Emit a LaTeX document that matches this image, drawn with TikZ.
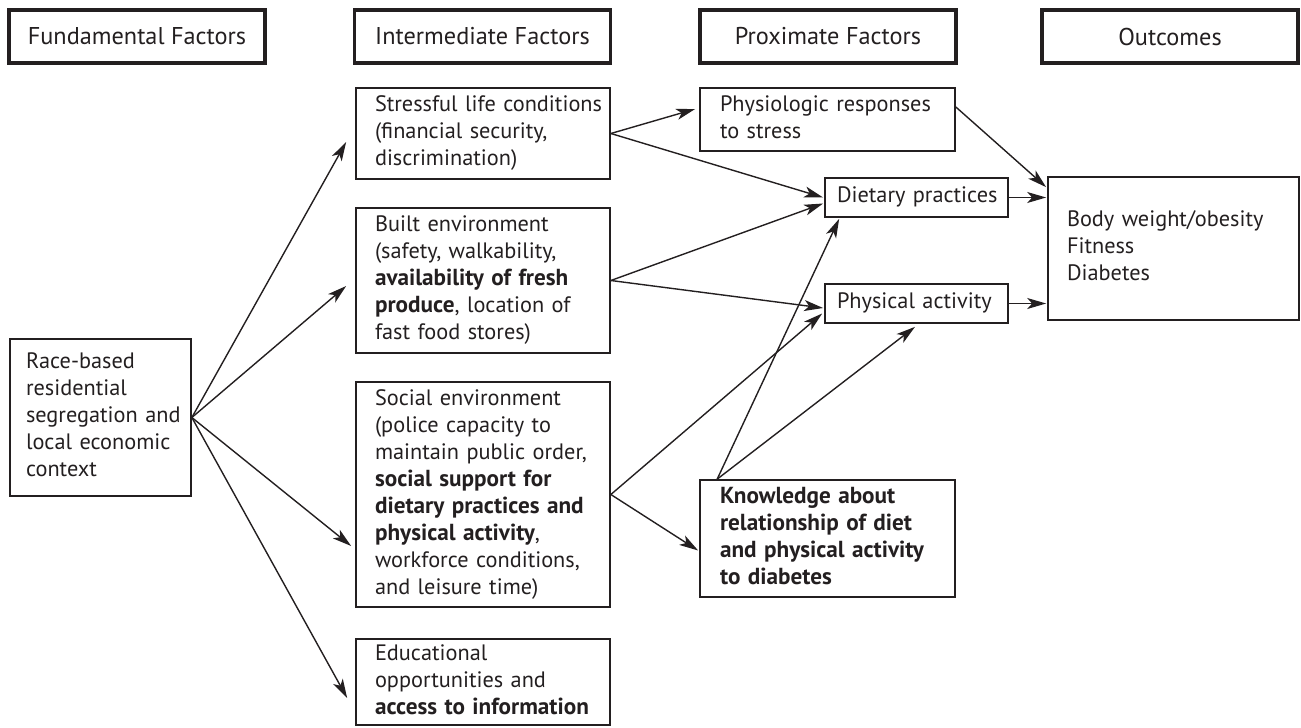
\documentclass[tikz,border=0pt]{standalone}
\usepackage{fontspec}
\setmainfont{PT Sans}
\usetikzlibrary{arrows.meta,calc}
\definecolor{ink}{HTML}{231F20}
\newcommand{\lns}[1]{\noindent\begin{tabular}{@{}l@{}}#1\end{tabular}}
\newcommand{\bld}[1]{{\bfseries\fontsize{23.2}{27}\selectfont #1}}
\begin{document}
\begin{tikzpicture}[x=1pt,y=-1pt,
  txt/.style={font=\fontsize{22.3}{27}\selectfont, text=ink},
  hdr/.style={font=\fontsize{24.3}{29}\selectfont, text=ink, draw=ink, line width=3.2pt, minimum width=256pt, minimum height=53pt, inner sep=0pt},
  bx/.style={txt, draw=ink, line width=1.7pt, inner ysep=0pt, align=left},
  arr/.style={draw=ink, -{Stealth[length=19pt,width=11pt,inset=5pt]}, line width=1.4pt}]
\useasboundingbox (0,0) rectangle (1301,728);

% headers
\node[hdr] (hF) at (137,36.5) {Fundamental Factors};
\node[hdr] (hI) at (482.5,36.5) {Intermediate Factors};
\node[hdr] (hP) at (828,36.5) {Proximate Factors};
\node[hdr] (hO) at (1170,36.5) {Outcomes};

% boxes
\node[bx, text width=149pt, inner xsep=16pt, minimum height=157pt] (race) at (100.5,417.5)
  {\lns{Race-based\\residential\\segregation and\\local economic\\context}};
\node[bx, text width=216pt, inner xsep=19pt, minimum height=91pt] (stress) at (483,133.5)
  {\lns{Stressful life conditions\\(financial security,\\discrimination)}};
\node[bx, text width=216pt, inner xsep=19pt, minimum height=145pt] (built) at (483,280.5)
  {\lns{Built environment\\(safety, walkability,\\\bld{availability of fresh}\\\bld{produce}, location of\\fast food stores)}};
\node[bx, text width=216pt, inner xsep=19pt, minimum height=225pt] (social) at (483,494.5)
  {\lns{Social environment\\(police capacity to\\maintain public order,\\\bld{social support for}\\\bld{dietary practices and}\\\bld{physical activity},\\workforce conditions,\\and leisure time)}};
\node[bx, text width=216pt, inner xsep=19pt, minimum height=86pt] (educ) at (483,682)
  {\lns{Educational\\opportunities and\\\bld{access to information}}};
\node[bx, text width=215pt, inner xsep=20pt, minimum height=63pt] (physio) at (827.5,119.5)
  {\lns{Physiologic responses\\to stress}};
\node[bx, text width=159pt, inner xsep=12pt, minimum height=39pt] (diet) at (916.5,197.5)
  {\lns{Dietary practices}};
\node[bx, text width=159pt, inner xsep=12pt, minimum height=39pt] (phys) at (916.5,303.5)
  {\lns{Physical activity}};
\node[bx, text width=215pt, inner xsep=20pt, minimum height=117pt] (know) at (827.5,538.5)
  {\lns{\bld{Knowledge about}\\\bld{relationship of diet}\\\bld{and physical activity}\\\bld{to diabetes}}};
\node[bx, text width=213pt, inner xsep=19pt, minimum height=143pt] (outc) at (1173.5,248.5)
  {\lns{Body weight/obesity\\Fitness\\Diabetes}};

% connectors
\draw[arr] (race.east) -- ($(stress.west)+(-9,8.5)$);
\draw[arr] (race.east) -- ($(built.west)+(-9,5.5)$);
\draw[arr] (race.east) -- ($(social.west)+(-4,51.5)$);
\draw[arr] (race.east) -- ($(educ.west)+(-8,16)$);

\draw[arr] (stress.east) -- ($(physio.west)+(-4,-10.5)$);
\draw[arr] (stress.east) -- ($(diet.west)+(-1,0)$);
\draw[arr] (built.east) -- ($(diet.west)+(-1,6)$);
\draw[arr] (built.east) -- ($(phys.west)+(-1,4.5)$);
\draw[arr] (social.east) -- ($(phys.west)+(-2,10)$);
\draw[arr] (social.east) -- ($(know.west)+(-1,12)$);

\draw[arr] ($(know.north west)+(18,0)$) -- ($(diet.south west)+(15,1)$);
\draw[arr] ($(know.north west)+(18,0)$) -- ($(phys.south)+(-1.5,3)$);

\draw[arr] ($(physio.east)+(0,-12.5)$) -- ($(outc.north west)+(-1,11)$);
\draw[arr] (diet.east) -- ($(diet.east -| outc.west)+(-1,0)$);
\draw[arr] (phys.east) -- ($(phys.east -| outc.west)+(-1,0)$);
\end{tikzpicture}
\end{document}
